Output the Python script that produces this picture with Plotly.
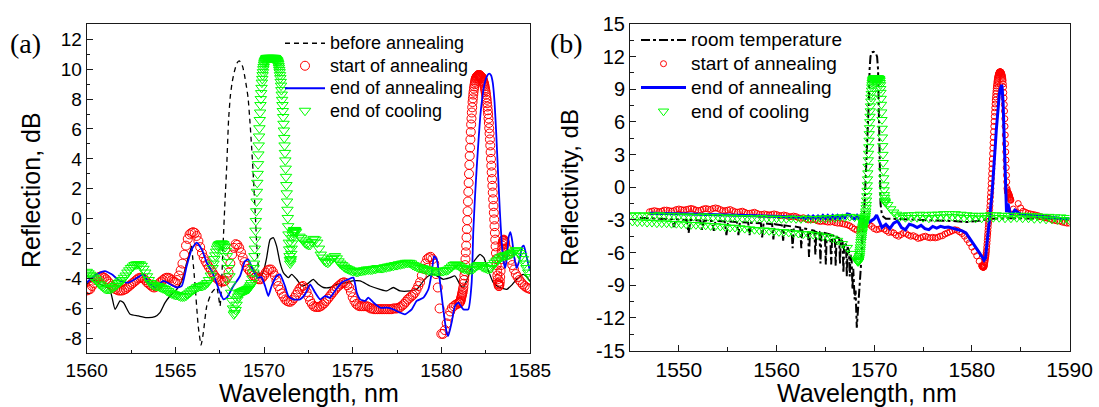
import numpy as np
import plotly.graph_objects as go

# ---------------- panel (a): reflection spectra during annealing ----------------
# before annealing (black line)
before_nm = [
    1560.0, 1560.4, 1560.8, 1561.3, 1561.6, 1561.88, 1562.07, 1562.45, 1562.91, 1563.38,
    1563.85, 1564.13, 1564.42, 1564.7, 1565.08, 1565.36, 1565.64, 1565.92, 1566.1, 1566.29,
    1566.45, 1566.58, 1566.77, 1567.05, 1567.33, 1567.52, 1567.6, 1567.7, 1567.8, 1567.9,
    1568.0, 1568.1, 1568.2, 1568.3, 1568.4, 1568.5, 1568.6, 1568.7, 1568.8, 1568.9,
    1569.0, 1569.1, 1569.2, 1569.3, 1569.4, 1569.5, 1569.6, 1569.7, 1569.85, 1570.0,
    1570.15, 1570.34, 1570.52, 1570.71, 1570.9, 1571.09, 1571.37, 1571.56, 1571.84, 1572.13,
    1572.41, 1572.78, 1573.06, 1573.35, 1573.72, 1574.1, 1574.66, 1575.0, 1575.42, 1575.98,
    1576.54, 1576.92, 1577.29, 1577.67, 1578.24, 1578.61, 1578.99, 1579.27, 1579.55, 1580.11,
    1580.49, 1580.77, 1581.05, 1581.24, 1581.52, 1581.8, 1582.0, 1582.18, 1582.4, 1582.56,
    1582.93, 1583.3, 1583.69, 1584.0, 1584.25, 1584.63, 1585.0,
]
before_db = [
    -4.4, -4.1, -4.4, -4.72, -6.06, -5.5, -5.61, -6.39, -6.5, -6.61,
    -6.55, -6.28, -5.61, -5.17, -4.72, -4.16, -2.94, -1.82, -4.27, -7.18,
    -8.45, -7.6, -5.84, -4.94, -4.6, -5.84, -4.5, -1.5, 1.2, 3.6,
    6.6, 8.2, 9.1, 9.7, 10.15, 10.45, 10.55, 10.45, 10.15, 9.6,
    8.9, 8.1, 6.6, 4.8, 2.8, 0.5, -2.0, -3.6, -3.8, -3.4,
    -2.6, -1.4, -1.27, -1.83, -2.94, -3.6, -3.94, -3.72, -4.05, -4.5,
    -4.39, -4.05, -4.39, -4.6, -4.6, -4.39, -4.27, -4.16, -4.16, -4.5,
    -4.72, -4.83, -4.6, -4.83, -4.83, -4.72, -4.16, -3.83, -3.7, -4.05,
    -3.94, -3.83, -4.39, -4.6, -3.83, -2.94, -2.6, -2.38, -2.6, -3.16,
    -4.27, -4.6, -4.72, -4.4, -4.05, -3.72, -4.16,
]

# start of annealing (red circles): 0.1 nm grid, 0.02 nm across the peak
start_a_nm = np.concatenate([
    np.linspace(1560.0, 1581.0, 211),
    np.linspace(1581.02, 1583.60, 130),
    np.linspace(1583.7, 1585.0, 14),
])
start_a_db = [
    -4.8, -4.75, -4.7, -4.5, -4.3, -4.1, -3.95, -3.9, -3.85, -3.9,
    -3.95, -4.05, -4.2, -4.35, -4.5, -4.6, -4.7, -4.75, -4.8, -4.8,
    -4.8, -4.75, -4.7, -4.6, -4.5, -4.4, -4.3, -4.2, -4.1, -4.0,
    -3.95, -3.95, -4.0, -4.1, -4.25, -4.35, -4.45, -4.55, -4.6, -4.55,
    -4.45, -4.3, -4.2, -4.1, -4.0, -3.95, -3.95, -4.0, -4.1, -4.2,
    -4.25, -4.1, -3.8, -3.45, -3.0, -2.4, -1.8, -1.35, -1.05, -0.95,
    -0.9, -0.95, -1.15, -1.5, -1.9, -2.3, -2.6, -2.85, -3.05, -3.25,
    -3.4, -3.6, -3.8, -3.95, -4.05, -4.15, -4.2, -4.2, -4.15, -3.95,
    -3.6, -3.0, -2.4, -1.95, -1.7, -1.75, -1.95, -2.25, -2.6, -2.9,
    -3.15, -3.35, -3.5, -3.65, -3.8, -3.9, -4.0, -4.05, -4.05, -3.95,
    -3.8, -3.6, -3.45, -3.4, -3.4, -3.55, -3.8, -4.15, -4.5, -4.75,
    -5.0, -5.2, -5.4, -5.5, -5.55, -5.55, -5.45, -5.3, -5.1, -4.9,
    -4.7, -4.55, -4.5, -4.65, -4.9, -5.2, -5.5, -5.7, -5.85, -5.9,
    -5.9, -5.9, -5.85, -5.75, -5.65, -5.5, -5.35, -5.2, -5.05, -4.9,
    -4.75, -4.6, -4.5, -4.4, -4.3, -4.25, -4.3, -4.45, -4.6, -4.9,
    -5.25, -5.5, -5.7, -5.8, -5.85, -5.85, -5.85, -5.85, -5.85, -5.9,
    -6.0, -6.0, -6.05, -6.05, -6.05, -6.05, -6.05, -6.05, -6.05, -6.05,
    -6.05, -6.05, -6.05, -6.0, -6.0, -6.0, -5.95, -5.9, -5.8, -5.7,
    -5.55, -5.4, -5.3, -5.2, -5.1, -4.95, -4.75, -4.5, -4.25, -3.8,
    -3.35, -3.0, -2.7, -2.6, -2.55, -2.7, -3.0, -3.7, -4.6, -6.0,
    -7.7, -7.7, -7.45, -7.0, -6.5, -6.2, -5.95, -5.85, -5.75, -5.7,
    -5.65,
    # peak
    -5.6, -5.6, -5.55, -5.5, -5.4, -5.3, -5.2, -5.1, -5.0, -4.9,
    -4.75, -4.6, -4.35, -4.1, -3.8, -3.5, -3.1, -2.7, -2.25, -1.8,
    -1.25, -0.7, -0.1, 0.5, 1.15, 1.8, 2.4, 3.0, 3.6, 4.2,
    4.75, 5.3, 5.8, 6.3, 6.7, 7.1, 7.45, 7.8, 8.05, 8.3,
    8.5, 8.7, 8.85, 9.0, 9.15, 9.25, 9.35, 9.4, 9.45, 9.5,
    9.52, 9.55, 9.58, 9.6, 9.6, 9.6, 9.6, 9.6, 9.58, 9.55,
    9.52, 9.5, 9.48, 9.45, 9.4, 9.35, 9.28, 9.2, 9.12, 9.05,
    8.95, 8.85, 8.72, 8.6, 8.45, 8.3, 8.12, 7.95, 7.72, 7.5,
    7.25, 7.0, 6.7, 6.4, 6.05, 5.7, 5.3, 4.9, 4.45, 4.0,
    3.55, 3.1, 2.65, 2.2, 1.75, 1.3, 0.85, 0.4, -0.05, -0.5,
    -0.95, -1.4, -1.85, -2.3, -2.7, -3.1, -3.45, -3.8, -4.05, -4.3,
    -4.4, -4.5, -4.5, -4.4, -4.2, -3.9, -3.5, -3.1, -2.7, -2.3,
    -2.05, -1.8, -1.65, -1.5, -1.45, -1.4, -1.45, -1.5, -1.6, -1.7,
    # tail
    -2.0, -2.4, -2.75, -3.1, -3.4, -3.7, -3.9, -4.1, -4.25, -4.4,
    -4.5, -4.6, -4.65, -4.7,
]

# end of annealing (blue line)
end_anneal_a_nm = [
    1560.0, 1560.3, 1560.56, 1561.03, 1561.41, 1561.88, 1562.35, 1562.72, 1563.19, 1563.48,
    1563.85, 1564.32, 1564.7, 1565.08, 1565.36, 1565.64, 1565.92, 1566.2, 1566.49, 1566.77,
    1567.14, 1567.52, 1567.71, 1567.9, 1568.27, 1568.65, 1568.93, 1569.11, 1569.4, 1569.65,
    1569.85, 1570.06, 1570.24, 1570.43, 1570.71, 1570.9, 1571.18, 1571.37, 1571.65, 1572.03,
    1572.31, 1572.6, 1572.88, 1573.16, 1573.44, 1573.72, 1574.0, 1574.38, 1574.76, 1575.04,
    1575.23, 1575.42, 1575.7, 1575.88, 1576.17, 1576.54, 1576.92, 1577.29, 1577.67, 1577.95,
    1578.33, 1578.61, 1578.99, 1579.27, 1579.46, 1579.59, 1579.74, 1579.93, 1580.11, 1580.3,
    1580.39, 1580.58, 1580.77, 1580.96, 1581.24, 1581.52, 1581.71, 1581.8, 1581.9, 1582.0,
    1582.1, 1582.2, 1582.3, 1582.4, 1582.5, 1582.6, 1582.7, 1582.8, 1582.9, 1583.0,
    1583.1, 1583.2, 1583.3, 1583.4, 1583.5, 1583.6, 1583.7, 1583.8, 1583.9, 1584.0,
    1584.1, 1584.25, 1584.4, 1584.55, 1584.65, 1584.8, 1585.0,
]
end_anneal_a_db = [
    -4.27, -3.95, -3.72, -3.5, -3.72, -4.16, -4.27, -4.05, -3.72, -4.27,
    -4.6, -4.16, -4.38, -4.6, -4.5, -3.16, -2.05, -1.6, -2.05, -2.94,
    -3.72, -4.94, -5.39, -5.28, -4.5, -3.83, -2.83, -2.72, -3.5, -3.95,
    -3.9, -4.5, -5.17, -4.5, -3.83, -3.72, -4.5, -5.17, -5.39, -5.39,
    -5.06, -4.39, -4.94, -5.39, -5.17, -5.28, -4.83, -4.27, -4.05, -3.94,
    -4.94, -5.39, -5.5, -5.28, -5.61, -5.95, -5.95, -6.06, -6.28, -6.39,
    -6.06, -5.5, -5.28, -4.72, -3.61, -2.5, -2.72, -4.27, -6.06, -7.62,
    -7.84, -6.95, -5.84, -5.61, -6.06, -6.06, -4.27, -0.9, 1.5, 3.5,
    5.3, 6.9, 8.0, 8.8, 9.3, 9.6, 9.7, 9.6, 9.1, 7.8,
    5.6, 3.0, 0.5, -1.5, -2.8, -3.3, -2.6, -1.2, -0.9, -1.5,
    -2.5, -3.3, -2.8, -1.9, -1.8, -2.5, -3.5,
]

# end of cooling (green triangles)
cool_a_nm = np.concatenate([
    np.linspace(1560.0, 1567.0, 71),
    np.linspace(1567.1, 1569.4, 47),
    np.linspace(1569.42, 1571.80, 120),
    np.linspace(1572.0, 1585.0, 131),
])
cool_a_db = [
    -3.55, -3.65, -3.75, -3.85, -3.95, -4.05, -4.2, -4.35, -4.45, -4.55,
    -4.65, -4.7, -4.7, -4.7, -4.65, -4.6, -4.5, -4.4, -4.3, -4.2,
    -4.1, -3.95, -3.8, -3.6, -3.45, -3.3, -3.2, -3.1, -3.05, -3.05,
    -3.05, -3.15, -3.35, -3.6, -3.85, -4.1, -4.3, -4.4, -4.45, -4.5,
    -4.5, -4.55, -4.6, -4.65, -4.7, -4.8, -4.85, -4.95, -5.0, -5.05,
    -5.1, -5.1, -5.15, -5.2, -5.2, -5.2, -5.15, -5.05, -4.95, -4.85,
    -4.75, -4.7, -4.6, -4.55, -4.5, -4.5, -4.45, -4.4, -4.3, -4.1,
    -3.8,
    # side lobe and dip
    -3.3, -3.0, -2.7, -2.45, -2.2, -2.0, -1.85, -1.75, -1.7, -1.68,
    -1.65, -1.67, -1.7, -1.8, -1.9, -2.15, -2.5, -2.9, -3.3, -3.85,
    -4.4, -4.95, -5.5, -6.0, -6.4, -6.3, -6.1, -5.75, -5.4, -5.2,
    -5.05, -4.95, -4.9, -4.88, -4.85, -4.82, -4.8, -4.78, -4.75, -4.72,
    -4.7, -4.65, -4.55, -4.45, -4.3, -4.0, -3.6,
    # peak
    -3.3, -3.0, -2.5, -2.0, -1.4, -0.8, -0.15, 0.5, 1.15, 1.8,
    2.4, 3.0, 3.65, 4.3, 4.9, 5.5, 6.05, 6.6, 7.1, 7.6,
    8.0, 8.4, 8.75, 9.1, 9.35, 9.6, 9.8, 10.0, 10.15, 10.3,
    10.4, 10.5, 10.55, 10.6, 10.65, 10.7, 10.72, 10.75, 10.75, 10.75,
    10.75, 10.75, 10.75, 10.75, 10.75, 10.75, 10.75, 10.75, 10.75, 10.75,
    10.75, 10.75, 10.75, 10.75, 10.75, 10.75, 10.75, 10.75, 10.75, 10.75,
    10.72, 10.7, 10.68, 10.65, 10.62, 10.6, 10.55, 10.5, 10.42, 10.35,
    10.22, 10.1, 9.95, 9.8, 9.6, 9.4, 9.15, 8.9, 8.6, 8.3,
    7.95, 7.6, 7.2, 6.8, 6.35, 5.9, 5.4, 4.9, 4.4, 3.9,
    3.35, 2.8, 2.25, 1.7, 1.15, 0.6, 0.05, -0.5, -1.05, -1.6,
    -2.05, -2.5, -2.75, -3.0, -2.85, -2.7, -2.35, -2.0, -1.65, -1.3,
    -1.1, -0.95, -0.88, -0.8, -0.78, -0.75, -0.77, -0.8, -0.85, -0.9,
    # tail
    -1.2, -1.3, -1.45, -1.6, -1.7, -1.75, -1.75, -1.55, -1.35, -1.4,
    -1.6, -2.0, -2.4, -2.6, -2.8, -2.9, -2.95, -2.85, -2.7, -2.6,
    -2.5, -2.65, -2.85, -3.0, -3.1, -3.2, -3.3, -3.35, -3.4, -3.45,
    -3.5, -3.5, -3.55, -3.55, -3.5, -3.5, -3.45, -3.45, -3.4, -3.4,
    -3.4, -3.4, -3.35, -3.35, -3.3, -3.3, -3.3, -3.3, -3.25, -3.25,
    -3.2, -3.2, -3.15, -3.15, -3.1, -3.1, -3.05, -3.05, -3.0, -3.0,
    -2.95, -2.95, -2.95, -3.0, -3.1, -3.15, -3.2, -3.25, -3.3, -3.3,
    -3.35, -3.4, -3.4, -3.45, -3.45, -3.5, -3.5, -3.5, -3.5, -3.5,
    -3.5, -3.5, -3.45, -3.45, -3.4, -3.3, -3.2, -3.1, -3.05, -3.1,
    -3.15, -3.25, -3.3, -3.35, -3.35, -3.4, -3.4, -3.4, -3.35, -3.25,
    -3.15, -3.1, -3.1, -3.2, -3.25, -3.3, -3.35, -3.35, -3.3, -3.1,
    -2.95, -2.85, -2.75, -2.65, -2.55, -2.5, -2.45, -2.45, -2.4, -2.35,
    -2.3, -2.2, -2.1, -2.15, -2.3, -2.5, -2.7, -3.0, -3.3, -3.6,
    -3.9,
]

# ---------------- panel (b): reflectivity ----------------
# room temperature (black dash-dot line)
room_nm = [
    1546.0, 1547.5, 1549.3, 1549.5, 1549.7, 1550.8, 1551.0, 1551.2, 1552.2, 1552.37,
    1552.55, 1553.4, 1553.58, 1553.75, 1554.7, 1554.87, 1555.05, 1555.95, 1556.1, 1556.25,
    1557.1, 1557.24, 1557.4, 1558.4, 1558.53, 1558.68, 1559.55, 1559.68, 1559.82, 1560.55,
    1560.68, 1560.82, 1561.52, 1561.65, 1561.78, 1562.42, 1562.54, 1562.66, 1563.22, 1563.33,
    1563.44, 1563.88, 1563.98, 1564.08, 1564.4, 1564.5, 1564.6, 1564.95, 1565.05, 1565.15,
    1565.5, 1565.6, 1565.7, 1565.97, 1566.06, 1566.15, 1566.42, 1566.5, 1566.58, 1566.77,
    1566.85, 1566.93, 1567.12, 1567.2, 1567.28, 1567.42, 1567.5, 1567.58, 1567.7, 1567.78,
    1567.86, 1568.0, 1568.1, 1568.22, 1568.32, 1568.46, 1568.64, 1568.82, 1569.0, 1569.18,
    1569.35, 1569.46, 1569.53, 1569.62, 1569.75, 1569.95, 1570.15, 1570.3, 1570.4, 1570.48,
    1570.56, 1570.65, 1570.8, 1571.2, 1572.0, 1574.0, 1576.0, 1578.0, 1579.5, 1580.5,
    1582.0, 1584.0, 1586.0, 1588.0, 1590.0,
]
room_db = [
    -2.8, -2.85, -2.95, -3.65, -2.95, -3.0, -4.2, -3.0, -3.05, -3.9,
    -3.05, -3.1, -4.0, -3.1, -3.15, -4.4, -3.15, -3.2, -4.4, -3.2,
    -3.25, -4.4, -3.25, -3.3, -4.6, -3.3, -3.4, -4.8, -3.4, -3.5,
    -4.9, -3.5, -3.6, -5.6, -3.6, -3.7, -5.6, -3.75, -3.85, -6.4,
    -3.9, -4.0, -6.2, -4.0, -4.1, -7.0, -4.1, -4.2, -7.1, -4.25,
    -4.35, -7.1, -4.4, -4.5, -7.2, -4.55, -4.7, -7.0, -4.8, -5.0,
    -7.9, -5.1, -5.3, -8.2, -5.5, -5.8, -8.2, -6.2, -6.8, -9.4,
    -7.5, -10.3, -9.5, -12.9, -11.5, -10.3, -7.3, -4.2, -1.8, 1.9,
    5.0, 8.0, 10.8, 12.0, 12.4, 12.45, 12.35, 12.0, 10.8, 7.0,
    2.0, -1.5, -2.6, -2.9, -2.9, -3.0, -3.05, -3.1, -3.2, -3.1,
    -2.9, -2.85, -2.85, -2.9, -2.9,
]

# start of annealing (red circles)
start_b_nm = np.concatenate([
    np.linspace(1547.0, 1581.0, 137),
    np.linspace(1581.05, 1584.0, 119),
    np.linspace(1584.25, 1590.0, 24),
])
start_b_db = [
    -2.25, -2.2, -2.15, -2.2, -2.25, -2.2, -2.1, -2.1,
    -2.15, -2.2, -2.15, -2.05, -2.0, -2.05, -2.1, -2.05,
    -2.0, -1.95, -2.0, -2.1, -2.15, -2.1, -2.0, -1.95,
    -2.0, -2.05, -1.95, -1.9, -1.95, -2.05, -2.15, -2.15,
    -2.1, -2.05, -2.15, -2.25, -2.3, -2.25, -2.2, -2.3,
    -2.4, -2.4, -2.35, -2.3, -2.4, -2.5, -2.5, -2.45,
    -2.5, -2.55, -2.5, -2.45, -2.5, -2.6, -2.6, -2.55,
    -2.6, -2.7, -2.7, -2.65, -2.7, -2.8, -2.85, -2.8,
    -2.9, -3.0, -3.0, -2.95, -3.0, -3.1, -3.15, -3.1,
    -3.15, -3.2, -3.2, -3.15, -3.25, -3.3, -3.3, -3.35,
    -3.4, -3.45, -3.55, -3.7, -3.85, -3.95, -3.8, -3.6,
    -3.4, -3.3, -3.4, -3.6, -3.8, -3.9, -3.85, -3.75,
    -3.85, -4.0, -4.15, -4.1, -4.2, -4.4, -4.5, -4.35,
    -4.2, -4.25, -4.4, -4.5, -4.45, -4.55, -4.7, -4.65,
    -4.55, -4.5, -4.6, -4.65, -4.6, -4.65, -4.6, -4.5,
    -4.45, -4.3, -4.2, -4.1, -4.0, -3.9, -3.95, -4.1,
    -4.25, -4.5, -4.8, -5.1, -5.5, -5.9, -6.3, -6.8,
    -7.2,
    # peak
    -7.25, -7.28, -7.3, -7.33, -7.35, -7.35, -7.35, -7.33, -7.3, -7.2,
    -7.1, -6.95, -6.8, -6.65, -6.5, -6.35, -6.2, -6.0, -5.8, -5.5,
    -5.2, -4.9, -4.6, -4.3, -4.0, -3.7, -3.4, -3.15, -2.9, -2.65,
    -2.4, -2.05, -1.7, -1.3, -0.9, -0.5, -0.1, 0.35, 0.8, 1.25,
    1.7, 2.15, 2.6, 3.1, 3.6, 4.1, 4.6, 5.1, 5.6, 6.05,
    6.5, 6.9, 7.3, 7.65, 8.0, 8.3, 8.6, 8.85, 9.1, 9.3,
    9.5, 9.7, 9.85, 10.0, 10.1, 10.2, 10.3, 10.38, 10.45, 10.5,
    10.55, 10.58, 10.6, 10.6, 10.6, 10.6, 10.6, 10.58, 10.55, 10.5,
    10.45, 10.38, 10.3, 10.2, 10.1, 9.95, 9.8, 9.5, 9.2, 8.7,
    8.2, 7.6, 7.0, 6.3, 5.6, 4.8, 4.0, 3.25, 2.5, 1.8,
    1.1, 0.5, -0.1, -0.25, -0.4, -0.45, -0.5, -0.52, -0.55, -0.6,
    -0.65, -0.72, -0.8, -0.88, -0.95, -1.02, -1.1, -1.15, -1.2,
    # tail
    -2.0, -2.3, -1.5, -1.9, -2.2, -2.3, -2.4, -2.45, -2.5, -2.55,
    -2.6, -2.7, -2.75, -2.8, -2.85, -2.9, -3.0, -3.05, -3.1, -3.1,
    -3.2, -3.25, -3.3, -3.3,
]

# end of annealing (blue line)
end_anneal_b_nm = [
    1547.0, 1549.0, 1551.0, 1553.0, 1555.0, 1557.0, 1559.0, 1561.0, 1562.5, 1563.0,
    1563.25, 1563.5, 1563.75, 1564.0, 1564.25, 1564.5, 1564.75, 1565.0, 1565.25, 1565.5,
    1565.75, 1566.0, 1566.25, 1566.5, 1566.75, 1567.0, 1567.25, 1567.5, 1567.75, 1568.0,
    1568.25, 1568.5, 1568.75, 1569.0, 1569.5, 1570.0, 1570.25, 1570.5, 1570.8, 1571.2,
    1571.6, 1572.0, 1572.4, 1572.8, 1573.2, 1573.6, 1574.0, 1574.4, 1574.8, 1575.2,
    1575.6, 1576.0, 1576.4, 1576.8, 1577.2, 1577.6, 1578.0, 1578.5, 1579.0, 1579.4,
    1579.8, 1580.1, 1580.5, 1580.8, 1581.05, 1581.25, 1581.4, 1581.5, 1581.6, 1581.7,
    1581.8, 1581.9, 1582.0, 1582.1, 1582.2, 1582.3, 1582.4, 1582.5, 1582.6, 1582.7,
    1582.8, 1582.9, 1583.0, 1583.05, 1583.1, 1583.15, 1583.2, 1583.25, 1583.3, 1583.35,
    1583.4, 1583.45, 1583.5, 1583.55, 1583.6, 1583.7, 1583.8, 1583.9, 1584.1, 1584.4,
    1584.7, 1585.0, 1586.0, 1587.0, 1588.0, 1589.0, 1590.0,
]
end_anneal_b_db = [
    -2.4, -2.4, -2.45, -2.5, -2.55, -2.6, -2.65, -2.7, -2.75, -2.85,
    -2.65, -2.85, -2.65, -2.85, -2.65, -2.85, -2.6, -2.85, -2.6, -2.85,
    -2.6, -2.85, -2.6, -2.85, -2.6, -2.8, -2.45, -2.5, -2.85, -2.9,
    -2.6, -2.9, -3.0, -3.1, -3.2, -2.9, -2.55, -3.1, -3.7, -3.4,
    -3.8, -3.3, -3.1, -3.7, -3.9, -3.4, -3.5, -3.7, -3.5, -3.8,
    -3.9, -3.6, -3.75, -3.6, -3.7, -3.65, -3.75, -3.85, -4.0, -4.2,
    -4.7, -5.1, -5.6, -6.05, -6.4, -6.7, -6.5, -5.7, -4.9, -4.0,
    -3.0, -2.0, -1.2, -0.2, 0.9, 2.3, 3.8, 5.2, 6.5, 7.5,
    8.4, 9.0, 9.35, 9.4, 9.2, 8.7, 7.8, 6.4, 4.6, 2.6,
    0.7, -0.8, -1.9, -2.3, -2.0, -1.5, -1.9, -2.4, -2.5, -2.1,
    -2.3, -2.5, -2.6, -2.7, -2.8, -2.85, -2.9,
]

# end of cooling (green triangles): two interleaved sweeps below 1569 nm
cool_b_nm = np.concatenate([
    np.linspace(1545.0, 1568.5, 48),
    np.linspace(1545.25, 1568.25, 47),
    np.linspace(1568.3, 1571.15, 115),
    np.linspace(1571.4, 1590.0, 63),
])
cool_b_db = [
    # upper sweep
    -2.6, -2.55, -2.6, -2.55, -2.6, -2.6, -2.55, -2.6, -2.65, -2.6,
    -2.65, -2.7, -2.65, -2.7, -2.7, -2.65, -2.7, -2.75, -2.7, -2.75,
    -2.8, -2.75, -2.8, -2.85, -2.8, -2.85, -2.85, -2.8, -2.85, -2.9,
    -2.85, -2.9, -2.9, -2.85, -2.9, -2.9, -2.85, -2.9, -2.9, -2.85,
    -2.85, -2.8, -2.8, -2.75, -2.75, -2.7, -2.75, -2.8,
    # lower sweep
    -3.15, -3.2, -3.2, -3.25, -3.25, -3.3, -3.3, -3.3, -3.35, -3.35,
    -3.4, -3.4, -3.45, -3.45, -3.5, -3.5, -3.55, -3.55, -3.6, -3.65,
    -3.7, -3.7, -3.75, -3.8, -3.85, -3.9, -3.95, -3.95, -4.0, -4.05,
    -4.1, -4.1, -4.15, -4.2, -4.25, -4.3, -4.3, -4.35, -4.4, -4.5,
    -4.55, -4.7, -4.9, -5.2, -5.55, -6.1, -6.7,
    # peak
    -6.8, -6.83, -6.85, -6.83, -6.8, -6.7, -6.6, -6.45, -6.3, -6.1,
    -5.9, -5.7, -5.5, -5.25, -5.0, -4.8, -4.6, -4.4, -4.2, -4.05,
    -3.9, -3.75, -3.6, -3.5, -3.4, -3.33, -3.25, -3.18, -3.1, -3.0,
    -2.9, -2.75, -2.6, -2.4, -2.2, -1.9, -1.6, -1.2, -0.8, -0.3,
    0.2, 0.75, 1.3, 1.9, 2.5, 3.1, 3.7, 4.3, 4.9, 5.45,
    6.0, 6.5, 7.0, 7.45, 7.9, 8.25, 8.6, 8.9, 9.2, 9.4,
    9.6, 9.75, 9.85, 9.9, 9.95, 9.98, 10.0, 10.0, 10.0, 10.0,
    10.0, 10.0, 10.0, 10.0, 10.0, 10.0, 10.0, 10.0, 10.0, 10.0,
    10.0, 10.0, 10.0, 10.0, 10.0, 10.0, 10.0, 10.0, 10.0, 9.98,
    9.95, 9.9, 9.8, 9.6, 9.4, 9.05, 8.7, 8.15, 7.6, 6.9,
    6.2, 5.4, 4.6, 3.8, 3.0, 2.25, 1.5, 0.85, 0.2, -0.25,
    -0.7, -0.95, -1.2, -1.3, -1.4,
    # tail
    -1.6, -2.0, -2.3, -2.5, -2.75, -2.6, -2.8, -2.55, -2.8, -2.55,
    -2.8, -2.5, -2.8, -2.55, -2.85, -2.5, -2.8, -2.5, -2.75, -2.45,
    -2.75, -2.45, -2.7, -2.45, -2.75, -2.5, -2.8, -2.55, -2.8, -2.6,
    -2.85, -2.6, -2.85, -2.6, -2.8, -2.55, -2.8, -2.55, -2.8, -2.6,
    -2.85, -2.6, -2.85, -2.6, -2.8, -2.6, -2.85, -2.6, -2.85, -2.65,
    -2.9, -2.65, -2.9, -2.7, -2.95, -2.7, -2.95, -2.75, -3.0, -2.75,
    -3.0, -2.8, -3.05,
]

for xs, ys in [(before_nm, before_db), (start_a_nm, start_a_db),
               (end_anneal_a_nm, end_anneal_a_db), (cool_a_nm, cool_a_db),
               (room_nm, room_db), (start_b_nm, start_b_db),
               (end_anneal_b_nm, end_anneal_b_db), (cool_b_nm, cool_b_db)]:
    assert len(xs) == len(ys), (len(xs), len(ys))

# axis ticks
ticks_a_x = [1560, 1565, 1570, 1575, 1580, 1585]
ticks_a_y = [-8, -6, -4, -2, 0, 2, 4, 6, 8, 10, 12]
ticks_b_x = [1550, 1560, 1570, 1580, 1590]
ticks_b_y = [-15, -12, -9, -6, -3, 0, 3, 6, 9, 12, 15]
minor_a_x = [1562.5, 1567.5, 1572.5, 1577.5, 1582.5]
minor_a_y = [-7, -5, -3, -1, 1, 3, 5, 7, 9, 11]
minor_b_x = [1555, 1565, 1575, 1585]
minor_b_y = [-13.5, -10.5, -7.5, -4.5, -1.5, 1.5, 4.5, 7.5, 10.5, 13.5]

SANS = "Liberation Sans, Arial, sans-serif"
SERIF = "Liberation Serif, Times New Roman, serif"
RED, GREEN, BLUE = "#ff0000", "#00ff00", "#0000ff"
W, H = 1099, 407


def label(text, size):
    return f"<span style='font-size:{size}px'>{text}</span>"


fig = go.Figure()

# ---- panel (a) traces ----
bx = np.array(before_nm)
by = np.array(before_db)
dash_part = (bx >= 1565.92) & (bx <= 1569.7)
solid_x = list(bx[bx <= 1565.92]) + [None] + list(bx[bx >= 1569.7])
solid_y = list(by[bx <= 1565.92]) + [None] + list(by[bx >= 1569.7])

fig.add_trace(go.Scatter(
    x=bx[dash_part], y=by[dash_part], mode="lines", name=label("before annealing", 18),
    line=dict(color="black", width=1.3, dash="5px,4px", shape="spline", smoothing=0.5),
    xaxis="x", yaxis="y", legend="legend"))
fig.add_trace(go.Scatter(
    x=solid_x, y=solid_y, mode="lines", showlegend=False,
    line=dict(color="black", width=1.3, shape="spline", smoothing=0.5),
    xaxis="x", yaxis="y"))
fig.add_trace(go.Scatter(
    x=start_a_nm, y=start_a_db, mode="markers", name=label("start of annealing", 18),
    marker=dict(symbol="circle-open", size=9, color=RED, line=dict(width=1)),
    xaxis="x", yaxis="y", legend="legend"))
fig.add_trace(go.Scatter(
    x=end_anneal_a_nm, y=end_anneal_a_db, mode="lines", name=label("end of annealing", 18),
    line=dict(color=BLUE, width=1.8, shape="spline", smoothing=0.5),
    xaxis="x", yaxis="y", legend="legend"))
fig.add_trace(go.Scatter(
    x=cool_a_nm, y=cool_a_db, mode="markers", name=label("end of cooling", 18),
    marker=dict(symbol="triangle-down-open", size=10, color=GREEN, line=dict(width=1)),
    xaxis="x", yaxis="y", legend="legend"))

# ---- panel (b) traces ----
fig.add_trace(go.Scatter(
    x=room_nm, y=room_db, mode="lines", name=label("room temperature", 19),
    line=dict(color="black", width=2, dash="dashdot"),
    xaxis="x2", yaxis="y2", legend="legend2"))
fig.add_trace(go.Scatter(
    x=start_b_nm, y=start_b_db, mode="markers", name=label("start of annealing", 19),
    marker=dict(symbol="circle-open", size=6, color=RED, line=dict(width=1)),
    xaxis="x2", yaxis="y2", legend="legend2"))
fig.add_trace(go.Scatter(
    x=end_anneal_b_nm, y=end_anneal_b_db, mode="lines", name=label("end of annealing", 19),
    line=dict(color=BLUE, width=3),
    xaxis="x2", yaxis="y2", legend="legend2"))
fig.add_trace(go.Scatter(
    x=cool_b_nm, y=cool_b_db, mode="markers", name=label("end of cooling", 19),
    marker=dict(symbol="triangle-down-open", size=9, color=GREEN, line=dict(width=1)),
    xaxis="x2", yaxis="y2", legend="legend2"))


def axis(domain, rng, anchor, vals, minor_vals, font_size):
    return dict(
        domain=domain, range=rng, anchor=anchor, automargin=False,
        tickmode="array", tickvals=vals, ticktext=[str(v) for v in vals],
        ticks="inside", ticklen=6, tickwidth=1, tickcolor="#1a1a1a",
        minor=dict(tickmode="array", tickvals=minor_vals, ticks="inside",
                   ticklen=3.5, tickwidth=1, tickcolor="#1a1a1a"),
        showline=True, linecolor="#1a1a1a", linewidth=1, mirror=True,
        showgrid=False, zeroline=False,
        tickfont=dict(family=SANS, size=font_size, color="black"),
    )


def note(text, x, y, size, family=SANS, angle=0):
    return dict(text=text, x=x / W, y=1 - y / H, xref="paper", yref="paper",
                xanchor="center", yanchor="middle", showarrow=False, textangle=angle,
                font=dict(family=family, size=size, color="black"))


fig.update_layout(
    template="none",
    width=W, height=H,
    margin=dict(l=0, r=0, t=0, b=0, autoexpand=False),
    paper_bgcolor="white", plot_bgcolor="white",
    xaxis=axis([86.7 / W, 530 / W], [1560, 1585], "y", ticks_a_x, minor_a_x, 19),
    yaxis=axis([1 - 353.3 / H, 1 - 24.3 / H], [-9, 13], "x", ticks_a_y, minor_a_y, 19),
    xaxis2=axis([630 / W, 1069.5 / W], [1545, 1590], "y2", ticks_b_x, minor_b_x, 21),
    yaxis2=axis([1 - 350.5 / H, 1 - 24 / H], [-15, 15], "x2", ticks_b_y, minor_b_y, 20),
    legend=dict(x=280 / W, y=1 - 27 / H, xanchor="left", yanchor="top",
                bgcolor="rgba(0,0,0,0)", borderwidth=0, itemwidth=40,
                font=dict(family=SANS, size=15, color="black")),
    legend2=dict(x=636 / W, y=1 - 23 / H, xanchor="left", yanchor="top",
                 bgcolor="rgba(0,0,0,0)", borderwidth=0, itemwidth=45,
                 font=dict(family=SANS, size=16, color="black")),
    annotations=[
        note("(a)", 25, 43, 28, SERIF),
        note("(b)", 566, 43, 28, SERIF),
        note("Reflection, dB", 31, 190, 25, angle=-90),
        note("Reflectivity, dB", 569, 188, 24, angle=-90),
        note("Wavelength, nm", 309, 393, 25),
        note("Wavelength, nm", 867, 393, 25),
    ],
)

fig.write_html("out.html")
